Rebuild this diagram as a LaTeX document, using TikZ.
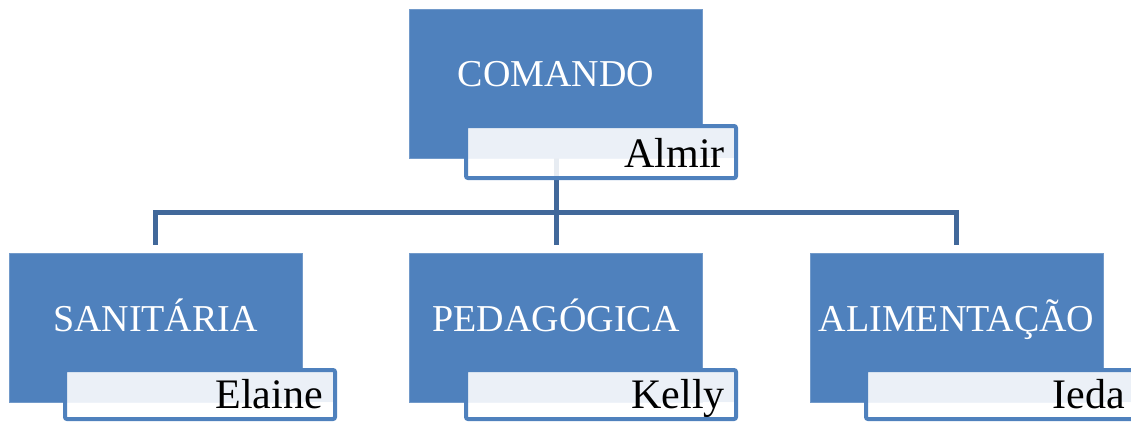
\documentclass[tikz,border=0pt]{standalone}
\usepackage{fontspec}
\setmainfont{Liberation Serif}
\definecolor{boxblue}{HTML}{4F81BD}
\definecolor{linkblue}{HTML}{41689A}
\definecolor{namefill}{HTML}{EBF0F7}
\begin{document}
\begin{tikzpicture}[x=1pt,y=-1pt,
  role/.style={fill=boxblue, draw=boxblue!80!white, line width=0.6pt,
    minimum width=293pt, minimum height=149pt, inner sep=0pt},
  namebox/.style={draw=boxblue, line width=4pt, rounded corners=2pt,
    minimum width=270pt, inner sep=0pt,
    path picture={
      \fill[namefill] (path picture bounding box.north west)
        rectangle ([yshift=#1]path picture bounding box.south east);
      \fill[white, fill opacity=0.88] (path picture bounding box.south west)
        rectangle ([yshift=#1]path picture bounding box.south east);}},
  link/.style={draw=linkblue, line width=5pt},
  label/.style={text=white, font=\fontsize{38}{40}\selectfont, anchor=base, inner sep=0pt},
  person/.style={text=black, font=\fontsize{42}{44}\selectfont, anchor=base east, inner sep=0pt}]
\useasboundingbox (0,0) rectangle (1131,421);
% role boxes
\node[role] (top) at (556,83.5) {};
\node[role] (san) at (155.5,327.5) {};
\node[role] (ped) at (556,327.5) {};
\node[role] (ali) at (956.5,327.5) {};
% connectors
\coordinate (bus) at (556,212);
\draw[link] (top.south) -- ([yshift=8pt]ped.north);
\draw[link] ([yshift=8pt]san.north) |- (bus) -| ([yshift=8pt]ali.north);
% name boxes
\node[namebox=20pt, minimum height=52pt] (ntop) at (601,152) {};
\node[namebox=17pt, minimum height=49pt] (nsan) at (200,394.5) {};
\node[namebox=17pt, minimum height=49pt] (nped) at (601,394.5) {};
\node[namebox=17pt, minimum height=49pt] (nali) at (1001,394.5) {};
% texts
\node[label] (ltop) at (556,86) {COMANDO};
\node[label] (lsan) at (155.5,331) {SANITÁRIA};
\node[label] (lped) at (556,331) {PEDAGÓGICA};
\node[label] (lali) at (956.5,331) {ALIMENTAÇÃO};
\node[person] (ptop) at (725,167) {Almir};
\node[person] (psan) at (323,408) {Elaine};
\node[person] (pped) at (725,408) {Kelly};
\node[person] (pali) at (1125,408) {Ieda};
\end{tikzpicture}
\end{document}
